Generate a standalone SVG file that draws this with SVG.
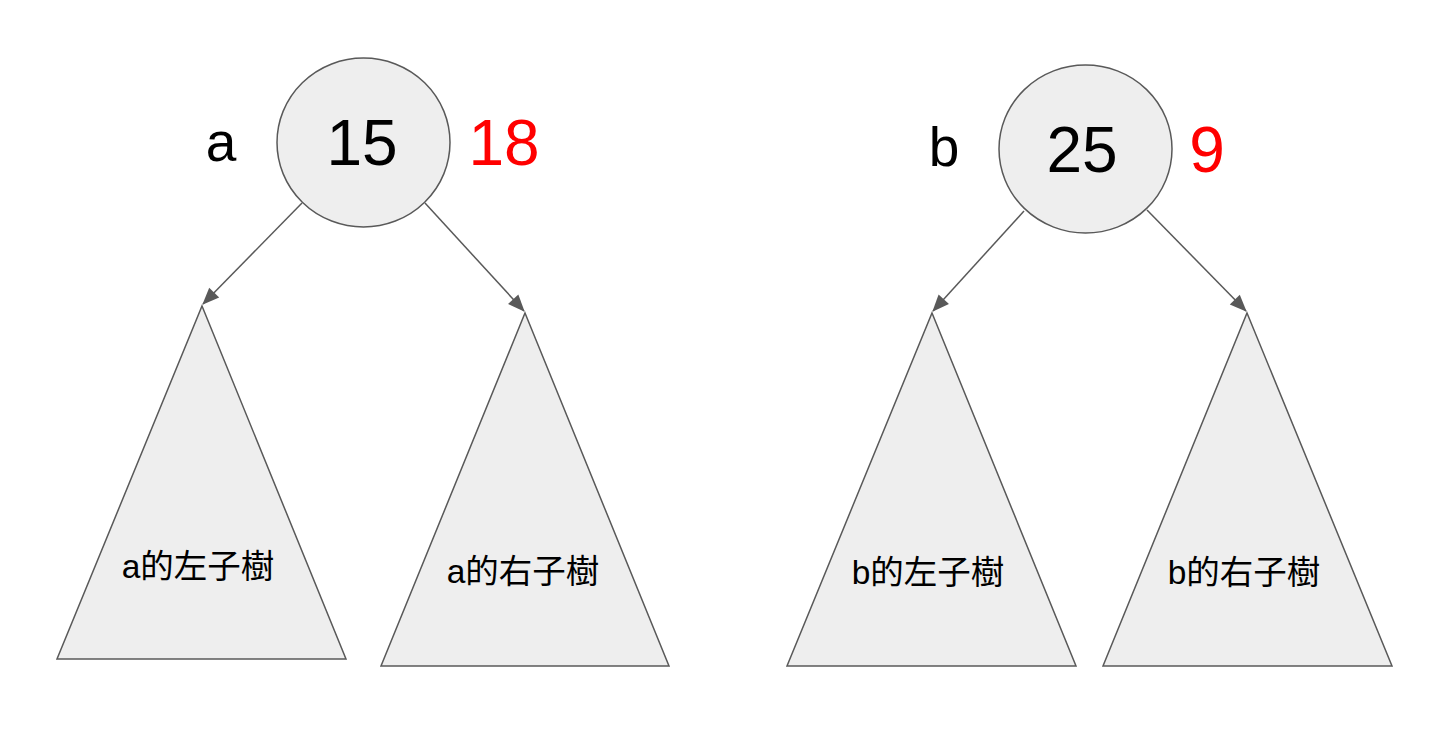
<svg xmlns="http://www.w3.org/2000/svg" width="1443" height="732" viewBox="0 0 1443 732">
<style>
.shape{fill:#eeeeee;stroke:#595959;stroke-width:1.5}
.edge{stroke:#595959;stroke-width:1.5;fill:none}
.big{font-family:"Liberation Sans",Arial,sans-serif;font-size:64px;text-anchor:middle;fill:#000}
.var{font-family:"Liberation Sans",Arial,sans-serif;font-size:55px;text-anchor:middle;fill:#000}
.red{fill:#ff0000}
.lbl{font-family:"Liberation Sans","Noto Sans CJK TC",sans-serif;font-size:33.5px;text-anchor:middle;fill:#000}
</style>
<defs>
<marker id="arr" viewBox="0 0 17 14" refX="16" refY="7" markerWidth="17" markerHeight="14" markerUnits="userSpaceOnUse" orient="auto" overflow="visible">
<path d="M0,0 L17,7 L0,14 z" fill="#595959"/>
</marker>
</defs>
<rect width="1443" height="732" fill="#ffffff"/>
<g id="connectors">
<line class="edge" x1="302" y1="203" x2="203" y2="304" marker-end="url(#arr)"/>
<line class="edge" x1="425" y1="203" x2="524" y2="311" marker-end="url(#arr)"/>
<line class="edge" x1="1024" y1="211" x2="933" y2="311" marker-end="url(#arr)"/>
<line class="edge" x1="1147" y1="210" x2="1246" y2="311" marker-end="url(#arr)"/>
</g>
<g id="node-15">
<ellipse class="shape" cx="363.5" cy="142.5" rx="86.5" ry="84.5"/>
<text class="big" x="362" y="165">15</text>
</g>
<g id="label-a"><text class="var" x="221" y="161">a</text></g>
<g id="label-18"><text class="big red" x="504" y="165">18</text></g>
<g id="node-25">
<ellipse class="shape" cx="1085.5" cy="149" rx="86.5" ry="84"/>
<text class="big" x="1082" y="172">25</text>
</g>
<g id="label-b"><text class="var" x="944" y="166">b</text></g>
<g id="label-9"><text class="big red" x="1207" y="172">9</text></g>
<g id="tri-a-left">
<polygon class="shape" points="202,306 346,659 57,659"/>
<text class="lbl" x="198" y="578">a的左子樹</text>
</g>
<g id="tri-a-right">
<polygon class="shape" points="525,313 669,666 381,666"/>
<text class="lbl" x="523" y="583">a的右子樹</text>
</g>
<g id="tri-b-left">
<polygon class="shape" points="932,313 1076,666 787,666"/>
<text class="lbl" x="928" y="584">b的左子樹</text>
</g>
<g id="tri-b-right">
<polygon class="shape" points="1247,313 1392,666 1103,666"/>
<text class="lbl" x="1244" y="584">b的右子樹</text>
</g>
</svg>
